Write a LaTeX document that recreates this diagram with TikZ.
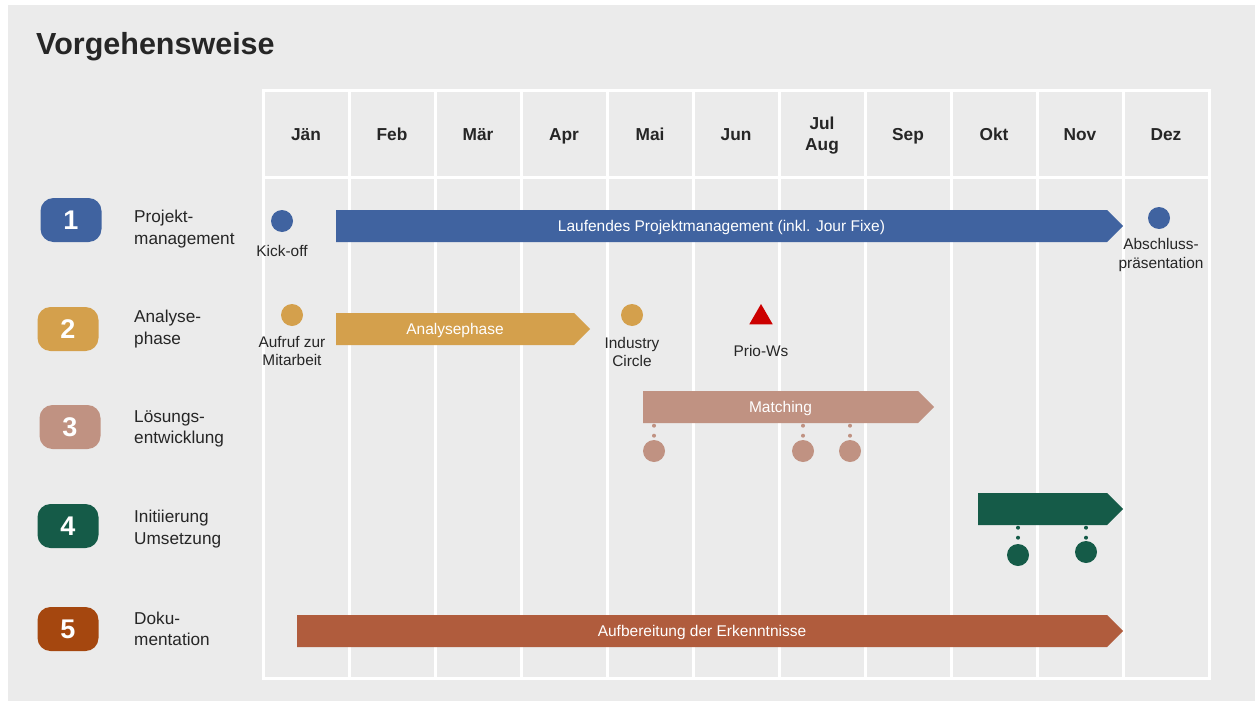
\documentclass[tikz,border=0pt]{standalone}
\usepackage{fontspec}
\setmainfont{Liberation Sans}
\usetikzlibrary{shapes.geometric}
\definecolor{bg}{HTML}{EBEBEB}
\definecolor{cblue}{HTML}{4063A0}
\definecolor{cgold}{HTML}{D4A04C}
\definecolor{crose}{HTML}{C09282}
\definecolor{cgreen}{HTML}{155B48}
\definecolor{crust}{HTML}{B05C3D}
\definecolor{cbadgefive}{HTML}{A5470F}
\definecolor{cred}{HTML}{CC0000}
\definecolor{ctext}{HTML}{262626}
\tikzset{
  gridline/.style={white, line width=3pt},
  badge/.style={fill=#1, rounded corners=13pt, minimum width=61pt, minimum height=44pt, inner sep=0pt,
    text=white, font=\bfseries\fontsize{27}{30}\selectfont},
  rowlabel/.style={anchor=west, align=left, text=ctext, inner sep=0pt, font=\fontsize{17.2}{21.5}\selectfont},
  month/.style={align=center, text=ctext, inner sep=0pt, font=\bfseries\fontsize{17.3}{21}\selectfont},
  monthone/.style={month, text height=12.4pt, text depth=0pt},
  evlabel/.style={align=center, text=ctext, inner sep=0pt, font=\fontsize{15.4}{18.6}\selectfont},
  bartext/.style={text=white, inner sep=0pt, minimum height=32pt, text height=11pt, text depth=0pt,
    font=\fontsize{15.5}{18}\selectfont},
  dot/.style={circle, fill=#1, minimum size=22pt, inner sep=0pt},
  dotline/.style={draw=#1, line width=4pt, line cap=round, dash pattern=on 0pt off 10pt},
}
\newcommand\phasebar[6]{%
  \fill[#2] (#3,#5-16) -- (#4-16,#5-16) -- (#4,#5) -- (#4-16,#5+16) -- (#3,#5+16) -- cycle;
  \node[bartext, minimum width={#4-#3-16}] (#1) at ({(#3+#4-16)/2},#5) {#6};
}
\begin{document}
\begin{tikzpicture}[x=1pt,y=-1pt]
\useasboundingbox (0,0) rectangle (1257,701);
\fill[bg] (8,5) rectangle (1255,701);
% title
\node[anchor=base west, inner sep=0pt, text=ctext, font=\bfseries\fontsize{30.5}{34}\selectfont] (title) at (36,55) {Vorgehensweise};
% grid
\draw[gridline] (263,90) rectangle (1209,678);
\foreach \i in {1,...,10} \draw[gridline] ({263+86*\i},90) -- ({263+86*\i},678);
\draw[gridline] (263,177) -- (1209,177);
% months
\foreach \m/\k in {Jän/0,Feb/1,Mär/2,Apr/3,Mai/4,Jun/5,Sep/7,Okt/8,Nov/9,Dez/10}
  \node[monthone] (m\k) at ({306+86*\k},134.5) {\m};
\node[month] (m6) at (822,136) {Jul\\Aug};
% badges and row labels
\node[badge=cblue] (b1) at (71,220) {1};
\node[badge=cgold] (b2) at (68,329) {2};
\node[badge=crose] (b3) at (70,427) {3};
\node[badge=cgreen] (b4) at (68,526) {4};
\node[badge=cbadgefive] (b5) at (68,629) {5};
\node[rowlabel] (l1) at (134,229) {Projekt-\\management};
\node[rowlabel] (l2) at (134,329) {Analyse-\\phase};
\node[rowlabel] (l3) at (134,429) {Lösungs-\\entwicklung};
\node[rowlabel] (l4) at (134,529) {Initiierung\\Umsetzung};
\node[rowlabel] (l5) at (134,629) {Doku-\\mentation};
% row 1
\phasebar{pm}{cblue}{336}{1123}{226}{Laufendes Projektmanagement (inkl. Jour Fixe)}
\node[dot=cblue] (ko) at (282,221) {};
\node[evlabel] (kol) at (282,250.5) {Kick-off};
\node[dot=cblue] (ap) at (1159,218) {};
\node[evlabel] (apl) at (1161,255) {Abschluss-\\präsentation};
% row 2
\phasebar{ana}{cgold}{336}{590}{329}{Analysephase}
\node[dot=cgold] (auf) at (292,315) {};
\node[evlabel] (aufl) at (292,351) {Aufruf zur\\Mitarbeit};
\node[dot=cgold] (ic) at (632,315) {};
\node[evlabel] (icl) at (632,352) {Industry\\Circle};
\node[regular polygon, regular polygon sides=3, fill=cred, minimum size=27pt, inner sep=0pt] (pw) at (761,317.5) {};
\node[evlabel] (pwl) at (761,350.5) {Prio-Ws};
% row 3
\phasebar{match}{crose}{643}{934}{407}{Matching}
\coordinate (r1) at (654,451);
\coordinate (r2) at (803,451);
\coordinate (r3) at (850,451);
\foreach \c in {r1,r2,r3} {
  \draw[dotline=crose] ([yshift=-2.5pt]match.south -| \c) -- (\c);
  \node[dot=crose] at (\c) {};
}
% row 4
\phasebar{imp}{cgreen}{978}{1123}{509}{}
\coordinate (g1) at (1018,555);
\coordinate (g2) at (1086,552);
\foreach \c in {g1,g2} {
  \draw[dotline=cgreen] ([yshift=-2.5pt]imp.south -| \c) -- (\c);
  \node[dot=cgreen] at (\c) {};
}
% row 5
\phasebar{doc}{crust}{297}{1123}{631}{Aufbereitung der Erkenntnisse}
\end{tikzpicture}
\end{document}
